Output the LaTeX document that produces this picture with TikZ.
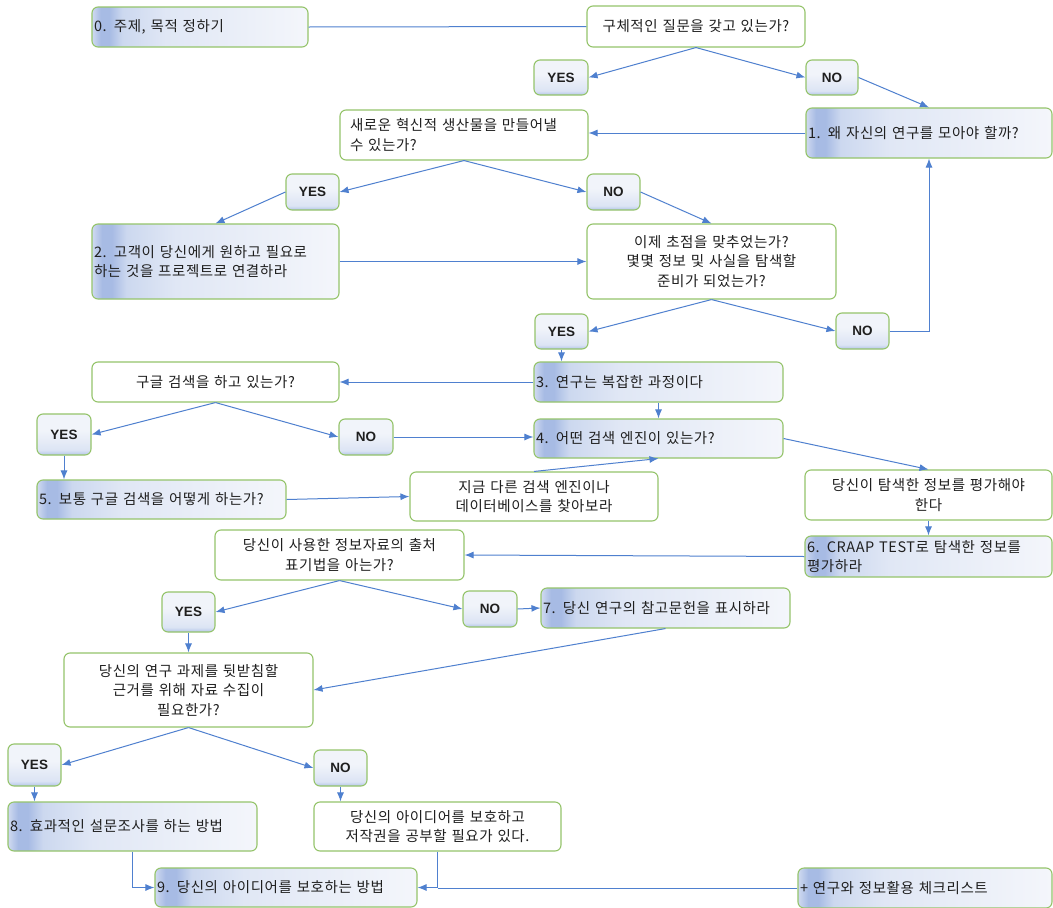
\documentclass[tikz,border=0pt]{standalone}
\usepackage{fontspec}
\setmainfont{Noto Sans CJK KR}[WordSpace=2.2,LetterSpace=4]
\newfontfamily\ynfont{Liberation Sans}
\usetikzlibrary{arrows.meta}
\definecolor{bgreen}{HTML}{95C46B}
\definecolor{ablue}{HTML}{4F80CF}
\definecolor{nA}{HTML}{D0DAF0}
\definecolor{nB}{HTML}{A7BBE4}
\definecolor{nC}{HTML}{CCD8EF}
\definecolor{nD}{HTML}{E0E7F5}
\definecolor{nE}{HTML}{F4F6FB}
\definecolor{yT}{HTML}{F1F4FA}
\definecolor{yM}{HTML}{DCE4F4}
\definecolor{yB}{HTML}{B2C5E8}
\pgfdeclarehorizontalshading{numshade}{100bp}{color(0bp)=(nA); color(25bp)=(nA); color(27bp)=(nB); color(29bp)=(nB); color(32bp)=(nC); color(42bp)=(nD); color(75bp)=(nE); color(100bp)=(nE)}
\pgfdeclareverticalshading{ynshade}{100bp}{color(0bp)=(yB); color(25bp)=(yB); color(31bp)=(yM); color(55bp)=(yT); color(100bp)=(yT)}
\tikzset{
 base/.style={draw=bgreen, line width=1.1pt, rounded corners=6pt, text=black!88, font=\fontsize{14.5}{19.5}\selectfont, inner ysep=0pt},
 num/.style 2 args={base, shading=numshade, shade, inner xsep=2pt, text width=#1, minimum height=#2, align=left},
 qc/.style 2 args={base, fill=white, inner xsep=4pt, text width=#1, minimum height=#2, align=center},
 ql/.style 2 args={base, fill=white, inner xsep=10pt, text width=#1, minimum height=#2, align=left},
 yn/.style 2 args={base, shading=ynshade, shade, inner sep=0pt, minimum width=#1, minimum height=#2, font=\ynfont\bfseries\fontsize{13.5}{13.5}\selectfont},
 arr/.style={draw=ablue, line width=1pt, -{Latex[length=9pt,width=7pt]}},
 ln/.style={draw=ablue, line width=1pt},
}
\begin{document}
\begin{tikzpicture}[x=1pt,y=-1pt]
\fill[white] (0,0) rectangle (1053,908);
\useasboundingbox (0,0) rectangle (1053,908);
\node[num={212pt}{40pt}] (n0) at (200,27) {0. 주제, 목적 정하기};
\node[qc={210pt}{41pt}] (q1) at (696,26.5) {구체적인 질문을 갖고 있는가?};
\node[yn={54pt}{35pt}] (yes1) at (561,77.5) {YES};
\node[yn={52pt}{35pt}] (no1) at (832,77.5) {NO};
\node[ql={228pt}{50pt}] (q2) at (464,135) {새로운 혁신적 생산물을 만들어낼\\수 있는가?};
\node[num={242pt}{50pt}] (n1) at (929,133) {1. 왜 자신의 연구를 모아야 할까?};
\node[yn={53pt}{36pt}] (yes2) at (312.5,192) {YES};
\node[yn={53pt}{36pt}] (no2) at (613.5,192) {NO};
\node[num={243pt}{75pt}] (n2) at (215.5,261.5) {2. 고객이 당신에게 원하고 필요로\\하는 것을 프로젝트로 연결하라};
\node[qc={241pt}{75pt}] (q3) at (711.5,261.5) {이제 초점을 맞추었는가?\\몇몇 정보 및 사실을 탐색할\\준비가 되었는가?};
\node[yn={53pt}{35pt}] (yes3) at (561.5,331.5) {YES};
\node[yn={53pt}{36pt}] (no3) at (862.5,331) {NO};
\node[qc={239pt}{40pt}] (q4) at (215.5,382) {구글 검색을 하고 있는가?};
\node[num={245pt}{40pt}] (n3) at (658.5,382) {3. 연구는 복잡한 과정이다};
\node[yn={54pt}{41pt}] (yes4) at (64,434.5) {YES};
\node[yn={54pt}{36pt}] (no4) at (366,437) {NO};
\node[num={245pt}{39pt}] (n4) at (658.5,438.5) {4. 어떤 검색 엔진이 있는가?};
\node[num={245pt}{39pt}] (n5) at (161.5,499.5) {5. 보통 구글 검색을 어떻게 하는가?};
\node[qc={240pt}{49pt}] (q5) at (534,496.5) {지금 다른 검색 엔진이나\\데이터베이스를 찾아보라};
\node[qc={239pt}{50pt}] (q6) at (928.5,495) {당신이 탐색한 정보를 평가해야\\한다};
\node[num={243pt}{41pt}] (n6) at (928.5,556.5) {6. CRAAP TEST로 탐색한 정보를\\평가하라};
\node[qc={241pt}{50pt}] (q7) at (339.5,555) {당신이 사용한 정보자료의 출처\\표기법을 아는가?};
\node[yn={53pt}{40pt}] (yes5) at (188.5,612) {YES};
\node[yn={54pt}{36pt}] (no5) at (490,609) {NO};
\node[num={245pt}{40pt}] (n7) at (665.5,608) {7. 당신 연구의 참고문헌을 표시하라};
\node[qc={241pt}{74pt}] (q8) at (188.5,690) {당신의 연구 과제를 뒷받침할\\근거를 위해 자료 수집이\\필요한가?};
\node[yn={53pt}{42pt}] (yes6) at (34.5,765) {YES};
\node[yn={53pt}{36pt}] (no6) at (340.5,768) {NO};
\node[num={245pt}{49pt}] (n8) at (132.5,826.5) {8. 효과적인 설문조사를 하는 방법};
\node[qc={239pt}{49pt}] (q9) at (437.5,826.5) {당신의 아이디어를 보호하고\\저작권을 공부할 필요가 있다.};
\node[num={258pt}{39pt}] (n9) at (286,887.5) {9. 당신의 아이디어를 보호하는 방법};
\node[num={250pt}{40pt}] (chk) at (925,888) {+ 연구와 정보활용 체크리스트};
\draw[ln] (n0.east) -- (q1.west);
\draw[arr] (q1.south) -- (yes1.east);
\draw[arr] (q1.south) -- (no1.west);
\draw[arr] (no1.east) -- (n1.north);
\draw[arr] (n1.west) -- (n1.west -| q2.east);
\draw[arr] (q2.south) -- (yes2.east);
\draw[arr] (q2.south) -- (no2.west);
\draw[arr] (yes2.west) -- (n2.north);
\draw[arr] (no2.east) -- (q3.north);
\draw[arr] (n2.east) -- (q3.west);
\draw[arr] (q3.south) -- (yes3.east);
\draw[arr] (q3.south) -- (no3.west);
\draw[arr] (no3.east) -| (n1.south);
\draw[arr] (yes3.south) -- (yes3.south |- n3.north);
\draw[arr] (n3.west) -- (q4.east);
\draw[arr] (n3.south) -- (n4.north);
\draw[arr] (q4.south) -- (yes4.east);
\draw[arr] (q4.south) -- (no4.west);
\draw[arr] (no4.east) -- (no4.east -| n4.west);
\draw[arr] (yes4.south) -- (yes4.south |- n5.north);
\draw[arr] (n5.east) -- (q5.west);
\draw[arr] (q5.north) -- (n4.south);
\draw[arr] (n4.east) -- (q6.north);
\draw[arr] (q6.south) -- (n6.north);
\draw[arr] (n6.west) -- (q7.east);
\draw[arr] (q7.south) -- (yes5.east);
\draw[arr] (q7.south) -- (no5.west);
\draw[arr] (no5.east) -- (n7.west);
\draw[arr] (yes5.south) -- (q8.north);
\draw[arr] (n7.south) -- (q8.east);
\draw[arr] (q8.south) -- (yes6.east);
\draw[arr] (q8.south) -- (no6.west);
\draw[arr] (yes6.south) -- (yes6.south |- n8.north);
\draw[arr] (no6.south) -- (no6.south |- q9.north);
\draw[arr] (n8.south) |- (n9.west);
\draw[arr] (q9.south) |- (n9.east);
\draw[ln] (chk.west) -- (chk.west -| q9.south);
\end{tikzpicture}
\end{document}
